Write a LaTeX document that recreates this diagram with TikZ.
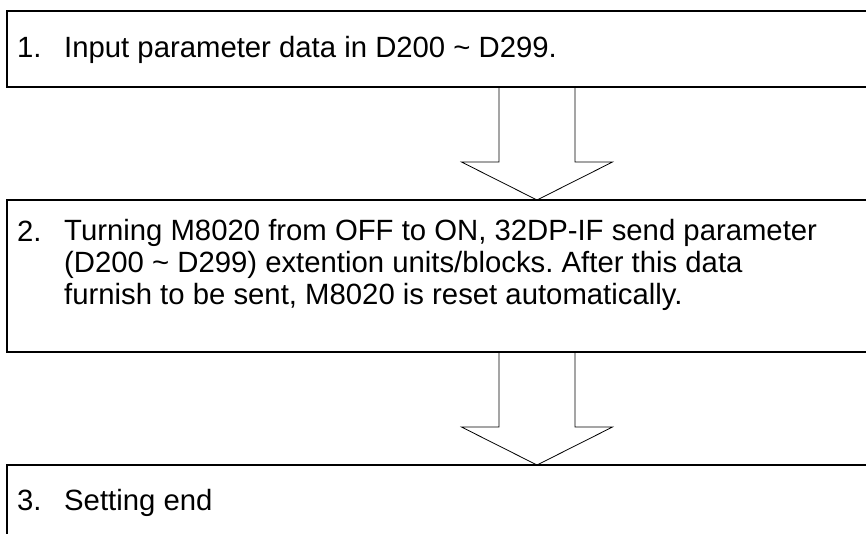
\documentclass[tikz,border=0pt]{standalone}
\usepackage{fontspec}
\setmainfont{Liberation Sans}
\frenchspacing
\usetikzlibrary{positioning, calc}
\tikzset{
	stepbox/.style={
		draw,
		line width=1.6pt,
		anchor=north west,
		minimum width=920pt,
		inner sep=0pt,
		outer sep=0pt
	},
	stepnum/.style={
		anchor=base west,
		inner sep=0pt,
		font={\fontsize{29.3}{28}\selectfont}
	},
	steptext/.style={
		anchor=base west,
		inner sep=0pt,
		align=left,
		font={\fontsize{29.3}{28}\selectfont}
	},
	bigarrow/.style={
		draw,
		line width=0.8pt,
		line join=miter
	}
}

\begin{document}
\begin{tikzpicture}[x=1pt, y=1pt]
\useasboundingbox (0,0) rectangle (866,-533);

\node(b1)[stepbox, minimum height=76pt] at (7,-11) {};
\node(b2)[stepbox, minimum height=152pt] at (7,-200) {};
\node(b3)[stepbox, minimum height=120pt] at (7,-465) {};

\node(n1)[stepnum] at ([shift={(10,-46)}]b1.north west) {1.};
\node(t1)[steptext] at ([shift={(57,-46)}]b1.north west) {Input parameter data in D200 \textasciitilde\ D299.};

% base of a multi-line node sits near its last line
\node(n2)[stepnum] at ([shift={(10,-41)}]b2.north west) {2.};
\node(t2)[steptext] at ([shift={(57,-104)}]b2.north west) {Turning M8020 from OFF to ON, 32DP-IF send parameter\\[4pt](D200 \textasciitilde\ D299) extention units/blocks. After this data\\[4pt]furnish to be sent, M8020 is reset automatically.};

\node(n3)[stepnum] at ([shift={(10,-45)}]b3.north west) {3.};
\node(t3)[steptext] at ([shift={(57,-45)}]b3.north west) {Setting end};

% hollow arrows between the boxes
\coordinate(ax) at (537,0);
\foreach \up/\dn in {b1/b2, b2/b3} {
	\coordinate(tip) at (\dn.north -| ax);
	\draw[bigarrow] ($(\up.south -| ax)+(-38,0)$) |- ($(tip)+(-75.5,38)$) -- (tip)
		-- ($(tip)+(75.5,38)$) -| ($(\up.south -| ax)+(38,0)$);
};
\end{tikzpicture}
\end{document}
